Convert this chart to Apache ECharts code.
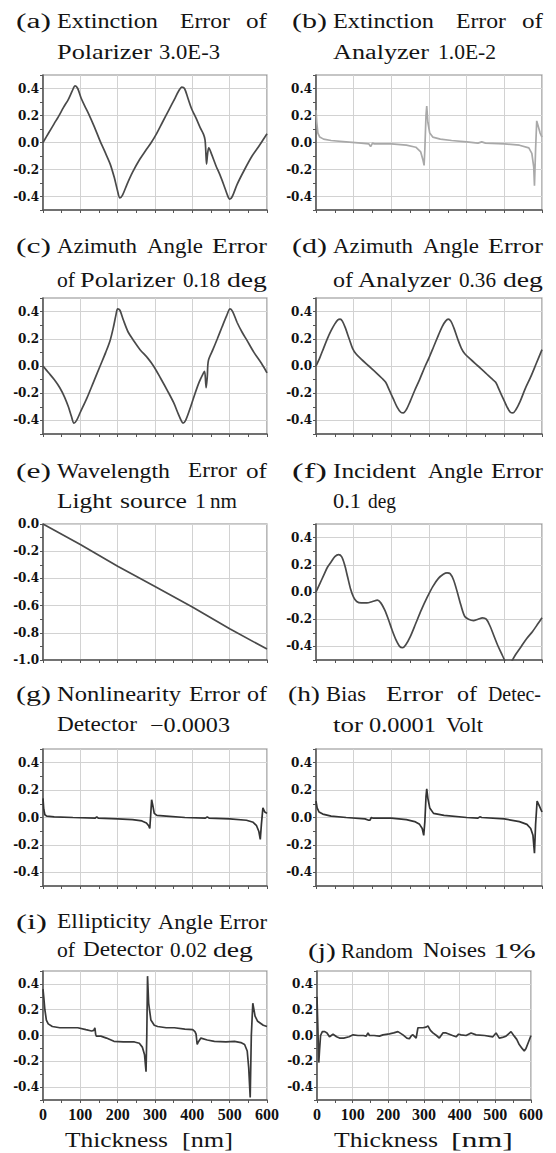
<!DOCTYPE html>
<html><head><meta charset="utf-8">
<script src="https://cdn.jsdelivr.net/npm/echarts@6/dist/echarts.min.js"></script>
<style>html,body{margin:0;padding:0;background:#fff}#c{width:556px;height:1153px}</style>
</head><body><div id="c"></div>
<script>
// ---------- data (thickness nm, error) ----------
const thicknessTicks = [0, 100, 200, 300, 400, 500, 600];
const extinctionPolarizer = [[0,0],[15,0.07],[30,0.14],[41,0.19],[55,0.26],[68,0.32],[78,0.38],[86,0.42],[93,0.40],[102,0.33],[112,0.27],[121,0.22],[137,0.12],[153,0.01],[166,-0.07],[180,-0.16],[191,-0.26],[199,-0.35],[206,-0.41],[213,-0.39],[225,-0.31],[240,-0.22],[258,-0.13],[275,-0.06],[290,0.0],[305,0.07],[320,0.15],[337,0.24],[352,0.32],[363,0.38],[372,0.41],[379,0.40],[388,0.33],[398,0.25],[410,0.18],[421,0.11],[430,0.06],[434,0.02],[436,-0.06],[438,-0.16],[441,-0.08],[444,-0.04],[452,-0.09],[463,-0.17],[474,-0.24],[485,-0.32],[494,-0.39],[500,-0.42],[507,-0.40],[520,-0.31],[540,-0.20],[560,-0.10],[580,-0.02],[600,0.065]];
const extinctionAnalyzer = [[0,0.24],[2,0.15],[5,0.07],[10,0.04],[20,0.025],[40,0.015],[80,0.005],[120,-0.005],[140,-0.01],[145,-0.03],[150,-0.005],[155,-0.01],[200,-0.01],[240,-0.02],[265,-0.035],[278,-0.07],[284,-0.13],[287,-0.17],[289,-0.05],[292,0.2],[294,0.27],[297,0.15],[302,0.07],[310,0.04],[330,0.025],[360,0.015],[400,0.005],[430,-0.005],[440,0.005],[450,-0.005],[500,-0.01],[540,-0.02],[565,-0.04],[573,-0.08],[578,-0.18],[580,-0.32],[583,-0.05],[586,0.16],[590,0.12],[595,0.07],[600,0.04]];
const azimuthPolarizer = [[0,0],[15,-0.05],[30,-0.10],[45,-0.16],[58,-0.23],[68,-0.30],[76,-0.37],[83,-0.42],[90,-0.40],[100,-0.34],[117,-0.24],[135,-0.12],[153,0.0],[168,0.10],[180,0.19],[189,0.29],[195,0.37],[200,0.42],[206,0.41],[215,0.34],[228,0.25],[242,0.19],[260,0.12],[280,0.06],[296,0.0],[315,-0.09],[335,-0.19],[350,-0.27],[362,-0.35],[370,-0.40],[375,-0.42],[382,-0.40],[393,-0.32],[405,-0.22],[418,-0.12],[430,-0.05],[433,-0.04],[437,-0.16],[440,-0.08],[443,0.04],[455,0.12],[467,0.20],[480,0.29],[492,0.37],[501,0.42],[508,0.40],[520,0.32],[533,0.25],[546,0.19],[565,0.10],[585,0.02],[600,-0.05]];
const azimuthAnalyzer = [[0,0.0],[10,0.06],[20,0.13],[30,0.20],[40,0.26],[50,0.31],[58,0.34],[64,0.345],[70,0.33],[78,0.28],[88,0.20],[97,0.13],[106,0.09],[120,0.05],[140,0.0],[160,-0.05],[175,-0.09],[185,-0.12],[195,-0.18],[205,-0.24],[215,-0.30],[225,-0.34],[232,-0.345],[240,-0.32],[250,-0.26],[262,-0.18],[275,-0.10],[290,0.0],[300,0.06],[312,0.14],[324,0.22],[335,0.29],[344,0.33],[351,0.345],[358,0.33],[366,0.28],[376,0.20],[386,0.13],[395,0.09],[410,0.05],[430,0.0],[450,-0.05],[465,-0.09],[477,-0.12],[487,-0.18],[497,-0.24],[507,-0.30],[516,-0.34],[523,-0.345],[531,-0.32],[542,-0.26],[555,-0.17],[570,-0.08],[585,0.02],[600,0.12]];
const wavelengthError = [[0,0],[100,-0.15],[200,-0.31],[300,-0.46],[400,-0.61],[500,-0.77],[600,-0.92]];
const incidentAngle = [[0,0],[10,0.06],[20,0.12],[30,0.18],[40,0.22],[50,0.26],[60,0.275],[68,0.26],[76,0.20],[84,0.11],[92,0.02],[100,-0.04],[108,-0.07],[120,-0.08],[135,-0.08],[150,-0.07],[163,-0.06],[172,-0.08],[182,-0.13],[192,-0.20],[202,-0.28],[212,-0.35],[222,-0.40],[230,-0.41],[238,-0.39],[250,-0.33],[265,-0.23],[280,-0.13],[295,-0.04],[310,0.04],[325,0.10],[338,0.13],[348,0.14],[356,0.135],[365,0.09],[375,0.0],[385,-0.10],[395,-0.18],[405,-0.20],[418,-0.21],[430,-0.20],[442,-0.19],[452,-0.20],[462,-0.25],[472,-0.32],[482,-0.39],[492,-0.45],[502,-0.51],[510,-0.57],[516,-0.53],[530,-0.46],[545,-0.40],[560,-0.34],[575,-0.29],[590,-0.23],[600,-0.19]];
const nonlinearityDetector = [[0,0.14],[2,0.06],[5,0.02],[10,0.01],[30,0.005],[80,0.0],[140,-0.005],[144,0.005],[148,-0.005],[200,-0.01],[240,-0.015],[265,-0.025],[277,-0.04],[283,-0.06],[286,-0.08],[288,0.0],[291,0.13],[294,0.09],[298,0.03],[305,0.015],[330,0.01],[380,0.0],[435,-0.005],[440,0.005],[445,-0.005],[500,-0.01],[545,-0.02],[563,-0.035],[572,-0.06],[578,-0.10],[582,-0.16],[585,-0.05],[589,0.07],[594,0.04],[600,0.03]];
const biasDetector = [[0,0.12],[3,0.07],[8,0.04],[18,0.025],[40,0.01],[80,0.0],[130,-0.01],[140,-0.02],[143,-0.02],[147,0.0],[152,-0.005],[200,-0.005],[240,-0.015],[262,-0.03],[275,-0.05],[282,-0.08],[286,-0.13],[289,-0.03],[292,0.15],[294,0.21],[297,0.14],[302,0.07],[312,0.03],[340,0.015],[400,0.0],[430,-0.005],[435,0.005],[440,0.0],[500,-0.01],[540,-0.03],[560,-0.05],[570,-0.08],[576,-0.13],[580,-0.26],[583,-0.05],[587,0.12],[592,0.09],[600,0.04]];
const ellipticityDetector = [[0,0.36],[2,0.30],[5,0.20],[9,0.12],[14,0.09],[25,0.07],[45,0.06],[70,0.06],[93,0.06],[115,0.045],[130,0.035],[136,0.04],[139,0.06],[141,0.01],[143,-0.005],[155,-0.005],[170,-0.02],[190,-0.045],[215,-0.05],[245,-0.05],[258,-0.06],[266,-0.09],[272,-0.15],[276,-0.28],[278,0.0],[280,0.46],[283,0.25],[289,0.12],[298,0.08],[307,0.07],[330,0.06],[352,0.06],[380,0.05],[401,0.045],[407,0.03],[410,0.01],[413,-0.07],[416,-0.05],[423,-0.02],[440,-0.035],[459,-0.045],[490,-0.05],[513,-0.045],[530,-0.055],[540,-0.07],[547,-0.12],[551,-0.25],[555,-0.48],[558,0.0],[562,0.25],[568,0.15],[575,0.11],[590,0.08],[600,0.07]];
const randomNoise = [[0,0.30],[2,0.1],[5,-0.21],[7,-0.12],[10,0.0],[15,0.03],[22,0.03],[28,0.02],[35,-0.01],[45,0.01],[55,-0.01],[63,-0.02],[75,-0.02],[90,-0.01],[101,0.005],[115,0.0],[130,0.0],[138,-0.005],[143,0.02],[147,0.0],[160,0.0],[175,-0.005],[185,0.005],[203,0.013],[215,0.02],[227,0.03],[241,0.005],[252,-0.02],[259,-0.025],[265,0.0],[269,0.005],[278,-0.02],[283,0.06],[297,0.06],[306,0.065],[311,0.075],[318,0.04],[325,0.02],[335,0.0],[343,-0.02],[353,0.02],[362,0.02],[371,0.01],[380,0.0],[390,-0.01],[397,0.01],[404,0.005],[418,0.0],[432,0.02],[446,0.005],[470,0.0],[493,-0.01],[502,0.02],[511,-0.02],[520,-0.015],[530,-0.005],[544,0.03],[553,-0.005],[560,-0.03],[567,-0.07],[575,-0.1],[581,-0.12],[586,-0.1],[593,-0.05],[600,0.0]];

// ---------- titles: [word, x0, x1] per line, with line y ----------
const titleLines = [
  {y:21, words:[['(a)',16,51],['Extinction',57,158],['Error',180,230],['of',246,267]]},
  {y:52, words:[['Polarizer',57,152],['3.0E-3',159,220]]},
  {y:21, words:[['(b)',292,327],['Extinction',333,434],['Error',456,506],['of',522,543]]},
  {y:52, words:[['Analyzer',333,429],['1.0E-2',438,496]]},
  {y:246, words:[['(c)',16,51],['Azimuth',57,137],['Angle',147,203],['Error',212,267]]},
  {y:280, words:[['of',57,75],['Polarizer',80,175],['0.18',183,220],['deg',227,267]]},
  {y:246, words:[['(d)',292,327],['Azimuth',333,413],['Angle',423,479],['Error',488,543]]},
  {y:280, words:[['of',333,353],['Analyzer',358,451],['0.36',459,496],['deg',503,543]]},
  {y:471, words:[['(e)',16,51],['Wavelength',57,170],['Error',188,237],['of',246,267]]},
  {y:501, words:[['Light',57,112],['source',120,187],['1',195,206],['nm',210,237]]},
  {y:471, words:[['(f)',292,327],['Incident',333,416],['Angle',428,483],['Error',491,543]]},
  {y:501, words:[['0.1',333,361],['deg',368,396]]},
  {y:694, words:[['(g)',16,51],['Nonlinearity',57,181],['Error',189,240],['of',247,267]]},
  {y:725, words:[['Detector',57,137],['\u22120.0003',150,230]]},
  {y:694, words:[['(h)',288,320],['Bias',326,366],['Error',386,443],['of',457,477],['Detec-',488,541]]},
  {y:725, words:[['tor',333,363],['0.0001',369,436],['Volt',446,483]]},
  {y:922, words:[['(i)',16,47],['Ellipticity',57,151],['Angle',158,213],['Error',219,267]]},
  {y:950, words:[['of',57,75],['Detector',83,163],['0.02',170,207],['deg',213,253]]},
  {y:951, words:[['(j)',308,336],['Random',341,413],['Noises',423,486],['1%',493,536]]},
  {y:1140, words:[['Thickness',65,168],['[nm]',182,233]]},
  {y:1140, words:[['Thickness',334,438],['[nm]',451,513]]}
];

// ---------- layout ----------
const colL = {left:43, width:224}, colR = {left:316, width:226};
const rows = [{top:75,height:135},{top:298,height:136},{top:524,height:136},{top:749,height:137},{top:971,height:129}];
const panels = [
  {data:extinctionPolarizer, col:colL, row:0, color:'#4a4a4a', smooth:0.3},
  {data:extinctionAnalyzer, col:colR, row:0, color:'#a9a9a9', smooth:false},
  {data:azimuthPolarizer, col:colL, row:1, color:'#4a4a4a', smooth:0.3},
  {data:azimuthAnalyzer, col:colR, row:1, color:'#4a4a4a', smooth:0.3},
  {data:wavelengthError, col:colL, row:2, color:'#4a4a4a', smooth:false, ymin:-1, ymax:0},
  {data:incidentAngle, col:colR, row:2, color:'#4a4a4a', smooth:0.3},
  {data:nonlinearityDetector, col:colL, row:3, color:'#333', smooth:false},
  {data:biasDetector, col:colR, row:3, color:'#333', smooth:false},
  {data:ellipticityDetector, col:colL, row:4, color:'#3a3a3a', smooth:false, xlab:true},
  {data:randomNoise, col:{left:317,width:214}, row:4, color:'#3a3a3a', smooth:false, xlab:true}
];

const grids = [], xAxes = [], yAxes = [], series = [];
panels.forEach((p, i) => {
  grids.push({left:p.col.left, width:p.col.width, top:rows[p.row].top, height:rows[p.row].height,
    show:true, borderColor:'#8c8c8c', borderWidth:1.2, backgroundColor:'#fff'});
  xAxes.push({gridIndex:i, type:'value', min:thicknessTicks[0], max:thicknessTicks[thicknessTicks.length-1], interval:100,
    axisLine:{show:true, onZero:false, lineStyle:{color:'#555', width:1.5}},
    axisTick:{show:true, inside:false, length:3, lineStyle:{color:'#555'}},
    minorTick:{show:true, splitNumber:2, length:3, lineStyle:{color:'#555'}},
    axisLabel:{show:!!p.xlab, margin:6, color:'#111', fontFamily:'Liberation Serif', fontWeight:'bold', fontSize:16},
    splitLine:{show:true, lineStyle:{color:'#d2d2d2', width:1}}});
  const ymin = p.ymin !== undefined ? p.ymin : -0.5;
  const ymax = p.ymax !== undefined ? p.ymax : 0.5;
  const evenFirst = p.ymin !== undefined;
  yAxes.push({gridIndex:i, type:'value', min:ymin, max:ymax, interval:0.1,
    axisLine:{show:true, onZero:false, lineStyle:{color:'#555', width:1.5}},
    axisTick:{show:true, inside:false, length:3, lineStyle:{color:'#555'}},
    axisLabel:{margin:4, color:'#111', fontFamily:'DejaVu Serif', fontWeight:'bold', fontSize:12,
      formatter: v => { const k = Math.round(v*10); return (k % 2 === 0 && !(ymin===-0.5 && Math.abs(k)===5)) ? (k/10).toFixed(1) : ''; }},
    splitLine:{show:true, lineStyle:{color: evenFirst ? ['#d2d2d2','rgba(0,0,0,0)'] : ['rgba(0,0,0,0)','#d2d2d2'], width:1}}});
  series.push({type:'line', xAxisIndex:i, yAxisIndex:i, data:p.data, showSymbol:false, symbol:'none',
    smooth:p.smooth, clip:true, lineStyle:{color:p.color, width:1.7}, z:5});
});

const ctx = document.createElement('canvas').getContext('2d');
ctx.font = '20px "Liberation Serif"';
const graphics = [];
titleLines.forEach(line => {
  line.words.forEach(([t, x0, x1]) => {
    const w = ctx.measureText(t).width || 1;
    graphics.push({type:'text', x:x0, y:line.y, scaleX:(x1 - x0) / w,
      style:{text:t, fontFamily:'Liberation Serif', fontSize:20, fontWeight:'normal', fill:'#141414',
        textAlign:'left', textVerticalAlign:'middle', align:'left', verticalAlign:'middle'}});
  });
});

const chart = echarts.init(document.getElementById('c'), null, {renderer:'svg', width:556, height:1153});
chart.setOption({
  animation:false,
  backgroundColor:'#fff',
  grid:grids, xAxis:xAxes, yAxis:yAxes, series:series,
  graphic:{elements:graphics}
});
</script></body></html>
